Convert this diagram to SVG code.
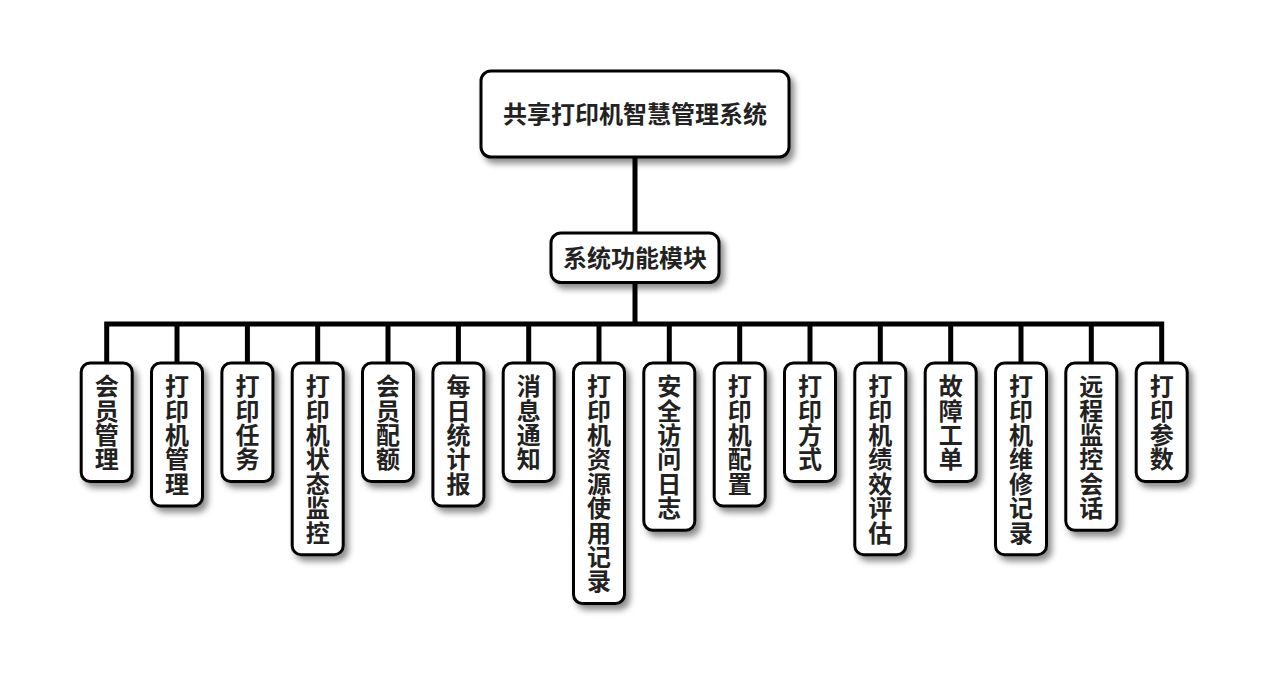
<svg xmlns="http://www.w3.org/2000/svg" width="1269" height="681" viewBox="0 0 1269 681">
<defs>
<filter id="sh" x="-30%" y="-30%" width="160%" height="160%">
<feDropShadow dx="4" dy="5" stdDeviation="3" flood-color="#000" flood-opacity="0.45"/>
</filter>
<style>
.box{fill:#fff;stroke:#000;stroke-width:3;filter:url(#sh)}
.t{font-family:"Noto Sans CJK SC","Noto Sans",sans-serif;font-weight:bold;font-size:24px;fill:#222;text-anchor:middle}
.v{font-family:"Noto Sans CJK SC","Noto Sans",sans-serif;font-weight:bold;font-size:24px;fill:#222;writing-mode:vertical-rl;text-anchor:start;letter-spacing:0.4px}
.c{fill:none;stroke:#000;stroke-width:5;stroke-linejoin:miter;stroke-linecap:butt}
</style>
</defs>
<rect width="1269" height="681" fill="#fff"/>
<g id="connectors">
<path class="c" d="M635 157V233"/>
<path class="c" d="M635 282V324"/>
<path class="c" d="M106.7 363V324H1161.7V363"/>
<path class="c" d="M177 324V363M247.4 324V363M317.7 324V363M388 324V363M458.4 324V363M528.7 324V363M599 324V363M669.3 324V363M739.7 324V363M810 324V363M880.3 324V363M950.7 324V363M1021 324V363M1091.3 324V363"/>
</g>
<g id="root">
<rect class="box" x="481" y="71" width="308" height="86" rx="10"/>
<text class="t" x="635" y="122.5">共享打印机智慧管理系统</text>
</g>
<g id="modules">
<rect class="box" x="551" y="233" width="168" height="49.5" rx="10"/>
<text class="t" x="635" y="267">系统功能模块</text>
</g>
<g id="n1">
<rect class="box" x="81.2" y="363" width="51" height="118.5" rx="9"/>
<text class="v" x="106.7" y="374">会员管理</text>
</g>
<g id="n2">
<rect class="box" x="151.5" y="363" width="51" height="142.9" rx="9"/>
<text class="v" x="177" y="374">打印机管理</text>
</g>
<g id="n3">
<rect class="box" x="221.9" y="363" width="51" height="118.5" rx="9"/>
<text class="v" x="247.4" y="374">打印任务</text>
</g>
<g id="n4">
<rect class="box" x="292.2" y="363" width="51" height="191.7" rx="9"/>
<text class="v" x="317.7" y="374">打印机状态监控</text>
</g>
<g id="n5">
<rect class="box" x="362.5" y="363" width="51" height="118.5" rx="9"/>
<text class="v" x="388" y="374">会员配额</text>
</g>
<g id="n6">
<rect class="box" x="432.9" y="363" width="51" height="142.9" rx="9"/>
<text class="v" x="458.4" y="374">每日统计报</text>
</g>
<g id="n7">
<rect class="box" x="503.2" y="363" width="51" height="118.5" rx="9"/>
<text class="v" x="528.7" y="374">消息通知</text>
</g>
<g id="n8">
<rect class="box" x="573.5" y="363" width="51" height="240.5" rx="9"/>
<text class="v" x="599" y="374">打印机资源使用记录</text>
</g>
<g id="n9">
<rect class="box" x="643.8" y="363" width="51" height="167.3" rx="9"/>
<text class="v" x="669.3" y="374">安全访问日志</text>
</g>
<g id="n10">
<rect class="box" x="714.2" y="363" width="51" height="142.9" rx="9"/>
<text class="v" x="739.7" y="374">打印机配置</text>
</g>
<g id="n11">
<rect class="box" x="784.5" y="363" width="51" height="118.5" rx="9"/>
<text class="v" x="810" y="374">打印方式</text>
</g>
<g id="n12">
<rect class="box" x="854.8" y="363" width="51" height="191.7" rx="9"/>
<text class="v" x="880.3" y="374">打印机绩效评估</text>
</g>
<g id="n13">
<rect class="box" x="925.2" y="363" width="51" height="118.5" rx="9"/>
<text class="v" x="950.7" y="374">故障工单</text>
</g>
<g id="n14">
<rect class="box" x="995.5" y="363" width="51" height="191.7" rx="9"/>
<text class="v" x="1021" y="374">打印机维修记录</text>
</g>
<g id="n15">
<rect class="box" x="1065.8" y="363" width="51" height="167.3" rx="9"/>
<text class="v" x="1091.3" y="374">远程监控会话</text>
</g>
<g id="n16">
<rect class="box" x="1136.2" y="363" width="51" height="118.5" rx="9"/>
<text class="v" x="1161.7" y="374">打印参数</text>
</g>
</svg>
